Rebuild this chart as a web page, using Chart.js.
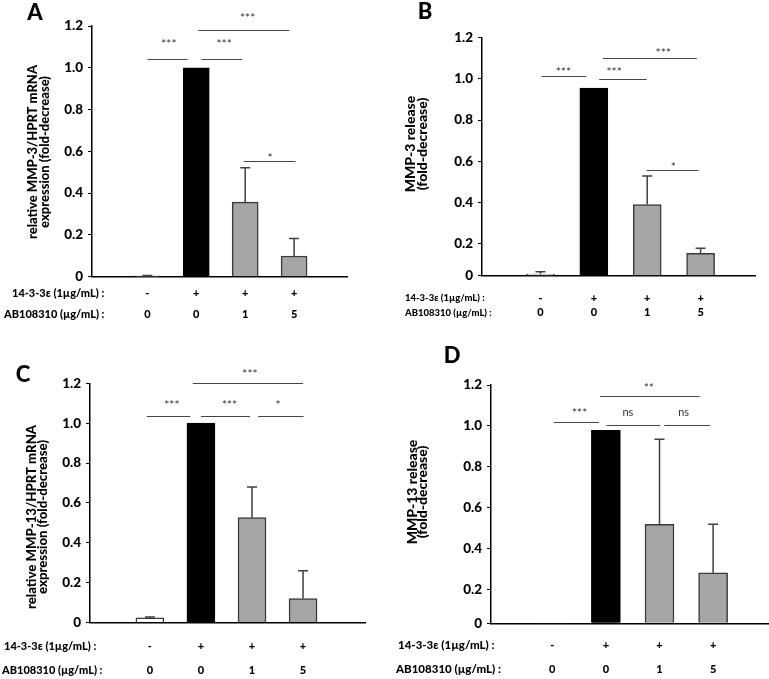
<!DOCTYPE html>
<html>
<head>
<meta charset="utf-8">
<script src="https://cdn.jsdelivr.net/npm/chart.js@4.4.1/dist/chart.umd.min.js"></script>
<style>
  body { margin: 0; background: #fff; }
  #fig { position: relative; width: 769px; height: 679px; }
  #fig canvas { position: absolute; }
</style>
</head>
<body>
<div id="fig">
  <canvas id="cA" width="380" height="330" style="left:0;top:0"></canvas>
  <canvas id="cB" width="389" height="330" style="left:380px;top:0"></canvas>
  <canvas id="cC" width="380" height="349" style="left:0;top:330px"></canvas>
  <canvas id="cD" width="389" height="349" style="left:380px;top:330px;z-index:2"></canvas>
</div>
<script>
/* Categorias (filas debajo del eje x) */
const treatment = ['-', '+', '+', '+'];
const doseAB = ['0', '0', '1', '5'];
const rowNames = ['14-3-3ε (1µg/mL) :', 'AB108310 (µg/mL) :'];
const yTickValues = [0.2, 0.4, 0.6, 0.8, 1.0, 1.2];

/* A - MMP-3 mRNA */
const meansA = [0.004, 1.0, 0.357, 0.099];
const errA = [0.002, 0, 0.164, 0.084];
// [desde, hasta, y, texto, xTexto, yTexto]
const sigA = [
  [0.0, 0.82, 1.04, '***', 0.44, 1.128],
  [1.11, 1.94, 1.04, '***', 1.57, 1.128],
  [1.04, 2.90, 1.18, '***', 2.05, 1.251],
  [1.97, 3.03, 0.553, '*', 2.51, 0.582]
];
const titleA = ['relative MMP-3/HPRT mRNA', 'expression (fold-decrease)'];

/* B - MMP-3 release */
const meansB = [0.053, 0.955, 0.39, 0.153];
const errB = [0.011, 0, 0.139, 0.025];
const sigB = [
  [0.02, 0.86, 1.012, '***', 0.43, 1.047],
  [1.10, 1.99, 0.999, '***', 1.38, 1.047],
  [1.17, 2.93, 1.10, '***', 2.30, 1.138],
  [1.99, 2.96, 0.56, '*', 2.49, 0.586]
];
const titleB = ['MMP-3 release', '(fold-decrease)'];

/* C - MMP-13 mRNA */
const meansC = [0.023, 1.0, 0.526, 0.12];
const errC = [0.005, 0, 0.154, 0.14];
const sigC = [
  [-0.06, 0.79, 1.036, '***', 0.43, 1.108],
  [1.0, 1.96, 1.036, '***', 1.56, 1.108],
  [2.12, 3.01, 1.036, '*', 2.51, 1.108],
  [0.84, 3.0, 1.2, '***', 1.96, 1.263]
];
const titleC = ['relative MMP-13/HPRT mRNA', 'expression (fold-decrease)'];

/* D - MMP-13 release */
const meansD = [0, 0.979, 0.52, 0.283];
const errD = [0, 0, 0.415, 0.237];
const sigD = [
  [0.03, 0.87, 1.018, '***', 0.51, 1.078],
  [1.01, 2.01, 1.005, 'ns', 1.41, 1.065],
  [2.09, 2.94, 1.005, 'ns', 2.45, 1.065],
  [0.89, 2.75, 1.146, '**', 1.80, 1.2]
];
const titleD = ['MMP-13 release', '(fold-decrease)'];

Chart.defaults.font.family = 'Lato, "DejaVu Sans", sans-serif';
Chart.defaults.color = '#000';

function makePanel(canvasId, means, errs, sig, yTitle, L) {
  const ctx = document.getElementById(canvasId).getContext('2d');
  const cw = ctx.canvas.width, ch = ctx.canvas.height;
  const [aL, aT, aR, aB] = L.area;

  const extras = {
    id: 'extras' + canvasId,
    afterDatasetsDraw(chart) {
      const c = chart.ctx, xs = chart.scales.x, ys = chart.scales.y;
      c.save();
      // barras de error, solo hacia arriba
      c.strokeStyle = '#404040';
      c.lineWidth = 1.5;
      means.forEach((m, i) => {
        if (!errs[i]) return;
        const x = xs.getPixelForValue(i);
        const y0 = ys.getPixelForValue(m);
        const y1 = ys.getPixelForValue(m + errs[i]);
        c.beginPath();
        c.moveTo(x, y0); c.lineTo(x, y1);
        c.moveTo(x - 5, y1); c.lineTo(x + 5, y1);
        c.stroke();
      });
      c.restore();
    },
    afterDraw(chart) {
      const c = chart.ctx, xs = chart.scales.x, ys = chart.scales.y;
      c.save();
      // lineas de significancia
      sig.forEach(s => {
        const y = Math.round(ys.getPixelForValue(s[2])) + 0.5;
        c.strokeStyle = '#474747';
        c.lineWidth = 1.2;
        c.beginPath();
        c.moveTo(xs.getPixelForValue(s[0]), y);
        c.lineTo(xs.getPixelForValue(s[1]), y);
        c.stroke();
        c.fillStyle = '#333';
        c.textAlign = 'center';
        c.textBaseline = 'middle';
        const stars = s[3].indexOf('*') >= 0;
        c.font = (stars ? '12px' : '11px') + ' Lato';
        c.fillText(s[3], xs.getPixelForValue(s[4]), ys.getPixelForValue(s[5]) + (stars ? 3 : 0));
      });
      // letra del panel
      c.fillStyle = '#000';
      c.font = '900 22px Lato';
      c.textAlign = 'center';
      c.textBaseline = 'middle';
      c.fillText(L.letter[0], L.letter[1], L.letter[2]);
      // titulo del eje y
      c.font = '900 ' + L.titleFont + 'px Lato';
      yTitle.forEach((t, k) => {
        c.save();
        c.translate(L.title[k], L.title[2]);
        c.rotate(-Math.PI / 2);
        c.fillText(t, 0, 0);
        c.restore();
      });
      // nombres de las filas
      c.font = '900 ' + L.rowFont + 'px Lato';
      c.textAlign = 'left';
      rowNames.forEach((t, k) => {
        c.fillText(t, L.rowLeft[k], aB + L.tickPad + L.rowGap / 2 + k * L.rowGap);
      });
      c.restore();
    }
  };

  return new Chart(ctx, {
    type: 'bar',
    data: {
      datasets: [{
        data: means.map((v, i) => ({ x: i, y: v })),
        backgroundColor: ['#ffffff', '#000000', '#a6a6a6', '#a6a6a6'],
        borderColor: ['#3a3a3a', '#000000', '#3a3a3a', '#3a3a3a'],
        borderWidth: 1.5,
        barThickness: L.barWidth,
        base: L.yMin,
        clip: { left: 10, right: 10, top: 10, bottom: 0 }
      }]
    },
    options: {
      responsive: false,
      animation: false,
      layout: { padding: { left: 0, top: aT, right: cw - aR, bottom: 0 } },
      plugins: { legend: { display: false }, tooltip: { enabled: false } },
      scales: {
        x: {
          type: 'linear',
          min: L.xRange[0],
          max: L.xRange[1],
          afterBuildTicks: s => { s.ticks = treatment.map((t, i) => ({ value: i })); },
          afterFit: s => { s.height = ch - aB; },
          grid: { display: false, drawTicks: false },
          border: { color: '#000', width: 1.5 },
          ticks: {
            autoSkip: false, maxRotation: 0, padding: L.tickPad,
            font: { size: 11, weight: '900', lineHeight: L.rowGap + 'px' },
            callback: v => [treatment[v], doseAB[v]]
          }
        },
        y: {
          type: 'linear',
          beginAtZero: false,
          min: L.yMin,
          max: 1.2,
          afterBuildTicks: s => { s.ticks = [L.yMin].concat(yTickValues).map(v => ({ value: v })); },
          afterFit: s => { s.width = aL; },
          grid: { drawOnChartArea: false, tickLength: 4, color: '#000' },
          border: { color: '#000', width: 1.5 },
          ticks: {
            autoSkip: false,
            z: 1,
            padding: 5,
            font: { size: 13.5, weight: '900' },
            callback: (v, i) => i === 0 ? '0' : v.toFixed(1)
          }
        }
      }
    },
    plugins: [extras]
  });
}

// D primero: solo asi salia el "0" del eje en las pruebas
makePanel('cD', meansD, errD, sigD, titleD, {
  area: [111, 55, 388, 293.3], xRange: [-0.497, 3.378], yMin: 0.036, barWidth: 29,
  letter: ['D', 72, 26], title: [32, 42, 162], titleFont: 14,
  rowLeft: [18, 16], tickPad: 9.7, rowGap: 24, rowFont: 11.5
});
makePanel('cA', meansA, errA, sigA, titleA, {
  area: [92, 26, 347, 276.7], xRange: [-0.48, 3.43], yMin: 0, barWidth: 26,
  letter: ['A', 35, 13], title: [33, 45, 152], titleFont: 13,
  rowLeft: [12, 4], tickPad: 5.8, rowGap: 21, rowFont: 11
});
makePanel('cB', meansB, errB, sigB, titleB, {
  area: [102, 37.7, 375, 275.7], xRange: [-0.456, 3.38], yMin: 0.045, barWidth: 28,
  letter: ['B', 45, 12], title: [30, 42, 144], titleFont: 14,
  rowLeft: [25, 25], tickPad: 15.3, rowGap: 14.5, rowFont: 9.5
});
makePanel('cC', meansC, errC, sigC, titleC, {
  area: [90, 53.3, 365, 292.5], xRange: [-0.5, 3.54], yMin: 0, barWidth: 28,
  letter: ['C', 23, 45], title: [32, 43, 187], titleFont: 13.2,
  rowLeft: [4, 2], tickPad: 11.5, rowGap: 24, rowFont: 11
});
</script>
</body>
</html>
